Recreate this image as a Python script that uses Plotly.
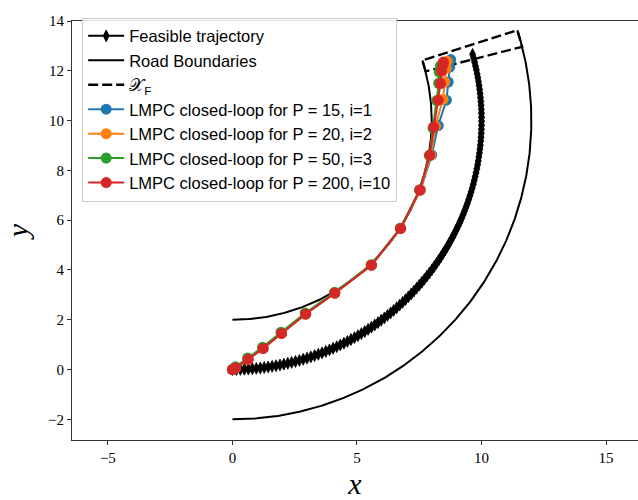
import numpy as np
import plotly.graph_objects as go

# ---------------- data ----------------
# road geometry (curve centre, centreline radius, half width, angles in degrees)
road_center = (0.0, 10.0)
road_radius = 10.0
road_half_width = 2.0
road_start_deg = -90.0
road_end_deg = 17.6
terminal_start_deg = 14.3   # start of terminal set X_F along the road

# feasible trajectory: arc-length positions along the centreline
feasible_s = [
    0.00, 0.16, 0.32, 0.48, 0.64, 0.80, 0.96, 1.12, 1.28, 1.44,
    1.60, 1.76, 1.92, 2.08, 2.24, 2.40, 2.56, 2.72, 2.88, 3.04,
    3.20, 3.36, 3.52, 3.68, 3.84, 4.00, 4.16, 4.32, 4.48, 4.64,
    4.80, 4.96, 5.12, 5.28, 5.44, 5.60, 5.76, 5.92, 6.08, 6.24,
    6.40, 6.56, 6.72, 6.88, 7.04, 7.20, 7.36, 7.52, 7.68, 7.84,
    8.00, 8.16, 8.32, 8.48, 8.64, 8.80, 8.96, 9.12, 9.28, 9.44,
    9.60, 9.76, 9.92, 10.08, 10.24, 10.40, 10.56, 10.72, 10.88, 11.04,
    11.20, 11.36, 11.52, 11.68, 11.84, 12.00, 12.16, 12.32, 12.48, 12.64,
    12.80, 12.96, 13.12, 13.28, 13.44, 13.60, 13.76, 13.92, 14.08, 14.24,
    14.40, 14.56, 14.72, 14.88, 15.04, 15.20, 15.36, 15.52, 15.68, 15.84,
    16.00, 16.16, 16.32, 16.48, 16.64, 16.80, 16.96, 17.12, 17.28, 17.44,
    17.60, 17.76, 17.92, 18.08, 18.24, 18.40,
]

# LMPC closed-loop trajectories
lmpc_p15_x = [0.00, 0.13, 0.63, 1.23, 1.97, 2.94, 4.11, 5.58, 6.75, 7.55, 8.00, 8.26, 8.59, 8.66, 8.72, 8.76]
lmpc_p15_y = [0.00, 0.07, 0.41, 0.85, 1.45, 2.23, 3.07, 4.19, 5.67, 7.21, 8.62, 9.80, 10.82, 11.55, 12.15, 12.45]

lmpc_p20_x = [0.00, 0.13, 0.63, 1.23, 1.97, 2.94, 4.11, 5.58, 6.75, 7.54, 7.96, 8.15, 8.45, 8.52, 8.58, 8.62]
lmpc_p20_y = [0.00, 0.07, 0.41, 0.85, 1.45, 2.23, 3.07, 4.19, 5.67, 7.21, 8.61, 9.77, 10.85, 11.55, 12.10, 12.38]

lmpc_p50_x = [0.00, 0.12, 0.61, 1.21, 1.95, 2.92, 4.10, 5.57, 6.74, 7.51, 7.91, 8.05, 8.20, 8.28, 8.30, 8.35]
lmpc_p50_y = [0.00, 0.11, 0.46, 0.90, 1.50, 2.27, 3.10, 4.21, 5.68, 7.21, 8.60, 9.70, 10.80, 11.50, 11.95, 12.20]

lmpc_p200_x = [0.00, 0.13, 0.63, 1.23, 1.97, 2.94, 4.11, 5.58, 6.75, 7.52, 7.92, 8.08, 8.26, 8.35, 8.39, 8.45, 8.47]
lmpc_p200_y = [0.00, 0.07, 0.41, 0.85, 1.45, 2.23, 3.07, 4.19, 5.67, 7.21, 8.61, 9.74, 10.82, 11.49, 11.99, 12.23, 12.35]

x_ticks = [-5, 0, 5, 10, 15]
y_ticks = [-2, 0, 2, 4, 6, 8, 10, 12, 14]

legend_names = [
    "Feasible trajectory",
    "Road Boundaries",
    "𝒳<sub>F</sub>",
    "LMPC closed-loop for P = 15, i=1",
    "LMPC closed-loop for P = 20, i=2",
    "LMPC closed-loop for P = 50, i=3",
    "LMPC closed-loop for P = 200, i=10",
]
lmpc_colors = ["#1f77b4", "#ff7f0e", "#2ca02c", "#d62728"]

# ---------------- geometry helpers ----------------
cx, cy = road_center


def arc_xy(radius, deg):
    a = np.deg2rad(np.asarray(deg, dtype=float))
    return cx + radius * np.cos(a), cy + radius * np.sin(a)


arc_deg = np.linspace(road_start_deg, road_end_deg, 300)
inner_x, inner_y = arc_xy(road_radius - road_half_width, arc_deg)
outer_x, outer_y = arc_xy(road_radius + road_half_width, arc_deg)

feas_deg = road_start_deg + np.rad2deg(np.asarray(feasible_s) / road_radius)
feas_x, feas_y = arc_xy(road_radius, feas_deg)

ri, ro = road_radius - road_half_width, road_radius + road_half_width
p1 = arc_xy(ri, terminal_start_deg)
p2 = arc_xy(ri, road_end_deg)
p3 = arc_xy(ro, road_end_deg)
p4 = arc_xy(ro, terminal_start_deg)
xf_x = [p1[0], p2[0], p3[0], p4[0], p1[0]]
xf_y = [p1[1], p2[1], p3[1], p4[1], p1[1]]

# ---------------- figure ----------------
fig = go.Figure()

fig.add_trace(go.Scatter(
    x=feas_x, y=feas_y, mode="lines+markers", name=legend_names[0],
    line=dict(color="black", width=2),
    marker=dict(symbol="diamond-tall", size=8.5, color="black",
                line=dict(color="black", width=0.8)),
    legendgroup="g0",
))
fig.add_trace(go.Scatter(
    x=inner_x, y=inner_y, mode="lines", name=legend_names[1],
    line=dict(color="black", width=2), legendgroup="g1",
))
fig.add_trace(go.Scatter(
    x=outer_x, y=outer_y, mode="lines", name=legend_names[1],
    line=dict(color="black", width=2), legendgroup="g1", showlegend=False,
))
fig.add_trace(go.Scatter(
    x=xf_x, y=xf_y, mode="lines", name=legend_names[2],
    line=dict(color="black", width=2.4, dash="10px,4px"), legendgroup="g2",
))

lmpc = [
    (lmpc_p15_x, lmpc_p15_y),
    (lmpc_p20_x, lmpc_p20_y),
    (lmpc_p50_x, lmpc_p50_y),
    (lmpc_p200_x, lmpc_p200_y),
]
for k, ((xs, ys), col) in enumerate(zip(lmpc, lmpc_colors)):
    fig.add_trace(go.Scatter(
        x=xs, y=ys, mode="lines+markers", name=legend_names[3 + k],
        line=dict(color=col, width=2),
        marker=dict(symbol="circle", size=11, color=col),
        legendgroup=f"g{3 + k}",
    ))

axis_common = dict(
    showgrid=False, zeroline=False, showline=True, linecolor="#333333",
    linewidth=1.1, mirror=True, ticks="outside", ticklen=4, tickwidth=1,
    tickcolor="#333333",
    tickfont=dict(family="Liberation Serif", size=15, color="black"),
)

fig.update_layout(
    width=638, height=500,
    margin=dict(l=72, r=0, t=21, b=60, pad=0),
    paper_bgcolor="white", plot_bgcolor="white",
    xaxis=dict(range=[-6.44, 16.28], tickvals=x_ticks,
               title=dict(text="<i>x</i>", standoff=8,
                          font=dict(family="Liberation Serif", size=30, color="black")),
               **axis_common),
    yaxis=dict(range=[-2.83, 14.0], tickvals=y_ticks,
               title=dict(text="<i>y</i>", standoff=10,
                          font=dict(family="Liberation Serif", size=30, color="black")),
               **axis_common),
    legend=dict(
        x=0.018, y=1.008, xanchor="left", yanchor="top",
        bgcolor="rgba(255,255,255,0.85)", bordercolor="#cccccc", borderwidth=1,
        font=dict(family="Liberation Sans", size=16.5, color="black"),
        tracegroupgap=0, itemwidth=36,
    ),
    showlegend=True,
)

fig.write_html("out.html")
